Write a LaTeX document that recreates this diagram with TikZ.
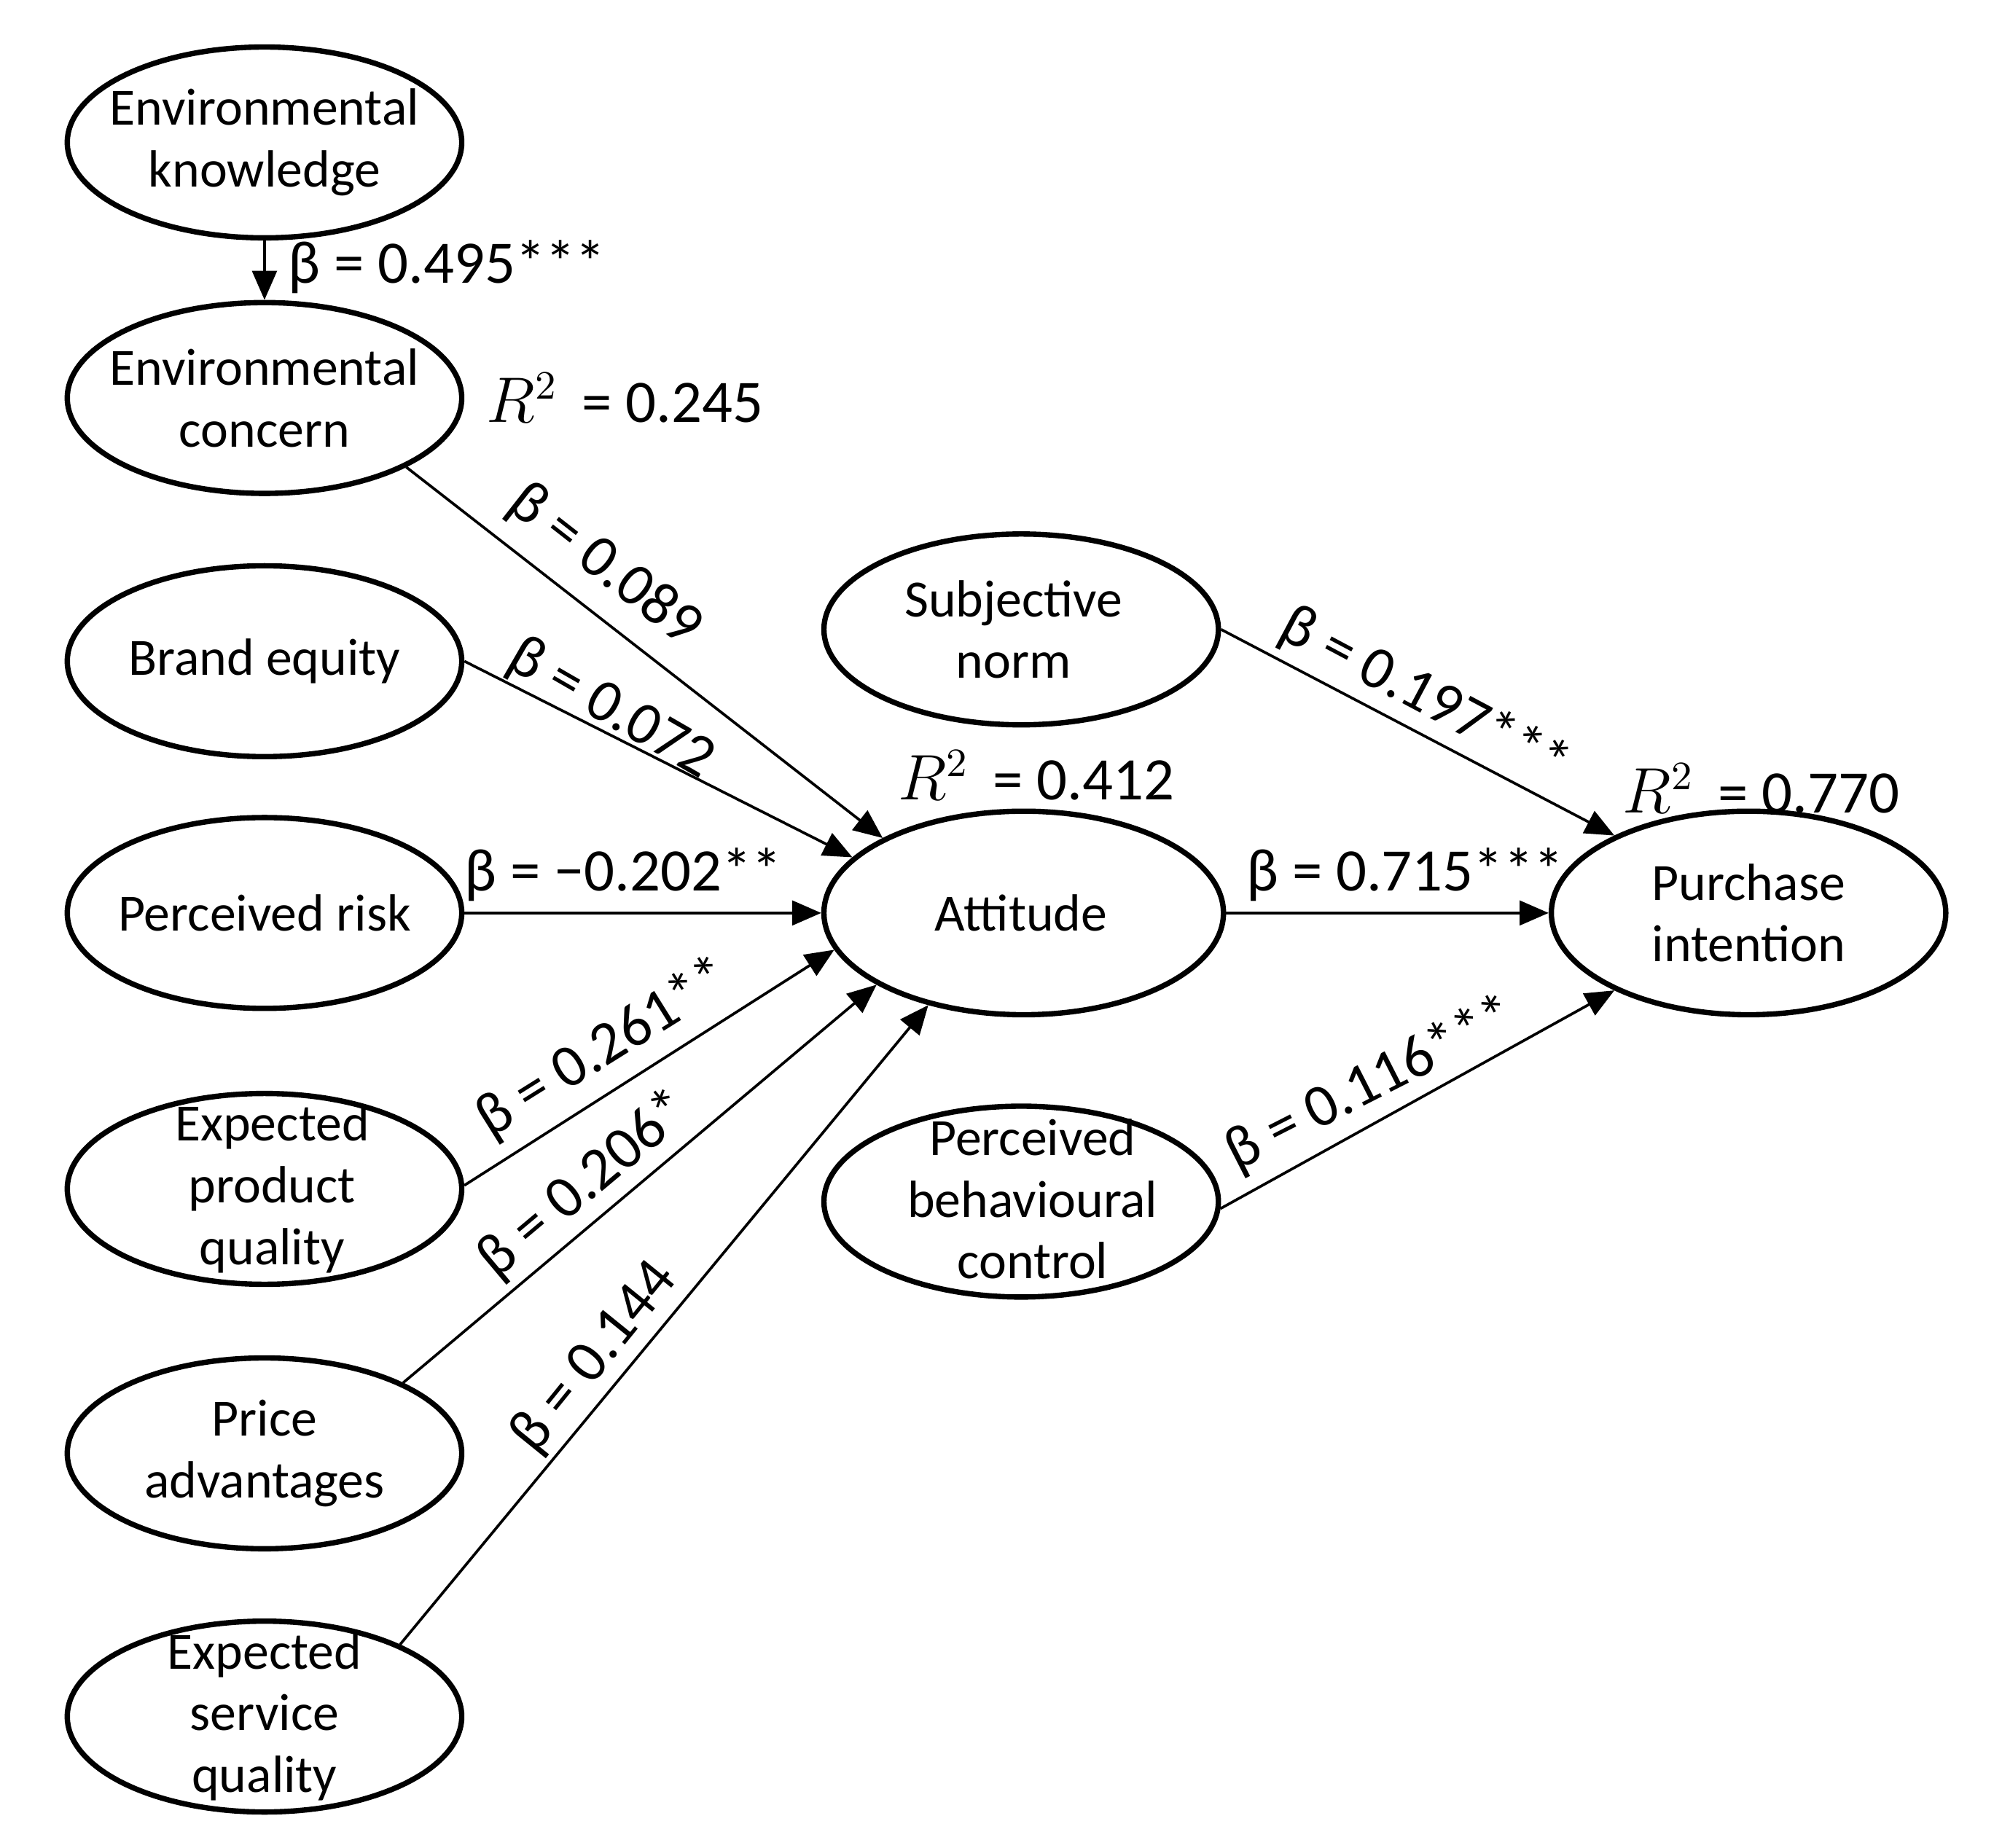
\documentclass[tikz,border=0pt]{standalone}
\usepackage{fontspec}
\setmainfont{Carlito}
\usetikzlibrary{shapes.geometric,arrows.meta}
\begin{document}
\begin{tikzpicture}[x=0.01cm,y=-0.01cm,
  el/.style={draw,ellipse,line width=1.2pt,minimum width=3.1cm,minimum height=1.5cm,inner sep=0pt},
  tx/.style={align=center,font=\fontsize{11.7}{13.8}\selectfont,inner sep=0pt},
  ar/.style={-{Triangle[length=6.5pt,width=5.5pt]},line width=0.6pt},
  lb/.style={font=\fontsize{13.5}{16}\selectfont,inner sep=0pt}]
\useasboundingbox (0,0) rectangle (1568,1453);
\node[el] (ek) at (208,112) {};
\node[el] (ec) at (208,313) {};
\node[el] (be) at (208,520) {};
\node[el] (pr) at (208,718) {};
\node[el] (epq) at (208,935) {};
\node[el] (pa) at (208,1143) {};
\node[el] (esq) at (208,1350) {};
\node[el] (sn) at (803,495) {};
\node[el,minimum width=3.14cm,minimum height=1.6cm] (att) at (805,718) {};
\node[el] (pbc) at (803,945) {};
\node[el,minimum height=1.6cm] (pi) at (1375,718) {};
\node[tx] (tek) at (208,112) {Environmental\\knowledge};
\node[tx] (tec) at (208,313) {Environmental\\concern};
\node[tx] (tbe) at (208,520) {Brand equity};
\node[tx] (tpr) at (208,718) {Perceived risk};
\node[tx] (tepq) at (214,935) {Expected\\product\\quality};
\node[tx] (tpa) at (208,1143) {Price\\advantages};
\node[tx] (tesq) at (208,1350) {Expected\\service\\quality};
\node[tx] (tsn) at (797,495) {Subjective\\norm};
\node[tx] (tatt) at (803,718) {Attitude};
\node[tx] (tpbc) at (812,943) {Perceived\\behavioural\\control};
\node[tx] (tpi) at (1375,718) {Purchase\\intention};
\draw[ar] (ek.south) -- (ec.north);
\draw[ar] (ec.-26) -- (att.152);
\draw[ar] (be.east) -- (att.162);
\draw[ar] (pr.east) -- (att.west);
\draw[ar] (epq.1) -- (att.191);
\draw[ar] (pa.27) -- (att.206);
\draw[ar] (esq.28) -- (att.224);
\draw[ar] (sn.east) -- (pi.150);
\draw[ar] (att.east) -- (pi.west);
\draw[ar] (pbc.-2) -- (pi.210);
\node[lb,anchor=west] (l1) at (226,210) {β = 0.495***};
\node[lb,anchor=west] (r1) at (382,313) {$R^{2}$\, = 0.245};
\node[lb,rotate=-38] (l2) at (475,445) {β = 0.089};
\node[lb,rotate=-30] (l3) at (480,558) {β = 0.072};
\node[lb] (l4) at (490,688) {β = −0.202**};
\node[lb,rotate=32] (l5) at (475,825) {β = 0.261**};
\node[lb,rotate=40] (l6) at (460,932) {β = 0.206*};
\node[lb,rotate=51] (l7) at (468,1068) {β = 0.144};
\node[lb] (r2) at (815,610) {$R^{2}$\, = 0.412};
\node[lb,rotate=-28] (l8) at (1120,548) {β = 0.197***};
\node[lb] (l9) at (1105,688) {β = 0.715***};
\node[lb,rotate=27] (l10) at (1078,853) {β = 0.116***};
\node[lb] (r3) at (1385,620) {$R^{2}$\, = 0.770};
\end{tikzpicture}
\end{document}
